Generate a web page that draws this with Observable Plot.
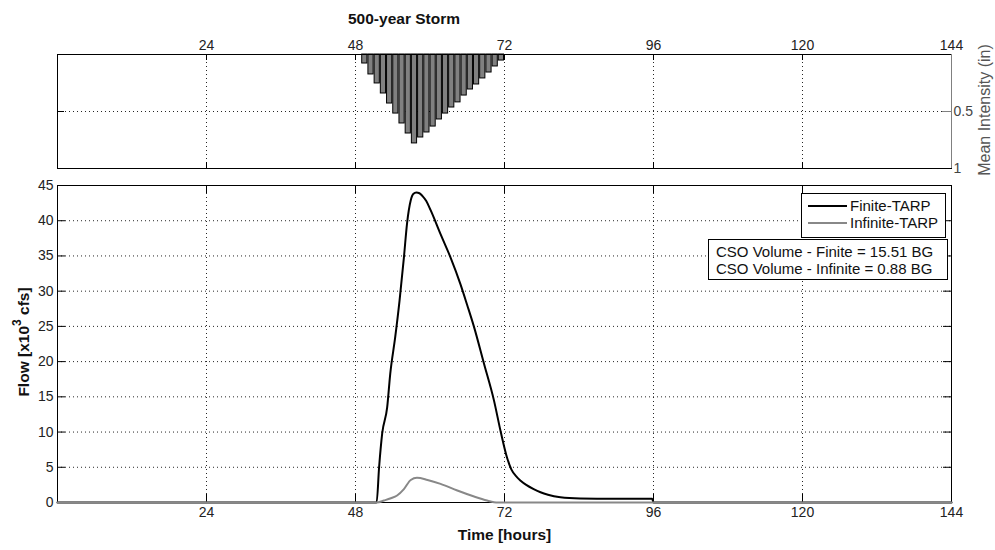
<!DOCTYPE html>
<html>
<head>
<meta charset="utf-8">
<script src="https://cdn.jsdelivr.net/npm/d3@7"></script>
<script src="https://cdn.jsdelivr.net/npm/@observablehq/plot@0.6"></script>
<style>
  body { margin: 0; background: #fff; font-family: "Liberation Sans", Arial, sans-serif; }
  #wrap { position: relative; width: 995px; height: 550px; overflow: hidden; background: #fff; }
  #title { position: absolute; left: 404px; top: 10px; transform: translateX(-50%); font-weight: bold; font-size: 15.5px; color: #111; white-space: nowrap; }
  #topPanel { position: absolute; left: 0; top: 30px; }
  #botPanel { position: absolute; left: 0; top: 175px; }
  #ylab { position: absolute; left: 22px; top: 342px; transform: translate(-50%, -50%) rotate(-90deg); font-weight: bold; font-size: 15.5px; color: #111; white-space: nowrap; }
  #ylab sup { font-size: 12px; position: relative; top: -1px; }
  #ylab2 { position: absolute; left: 985px; top: 110px; transform: translate(-50%, -50%) rotate(-90deg); font-size: 16px; color: #555; white-space: nowrap; line-height: 1; }
  .box { position: absolute; background: #fff; border: 1px solid #000; font-size: 15px; color: #111; }
  .row { position: absolute; white-space: nowrap; }
  .swatch { position: absolute; height: 0; }
</style>
</head>
<body>
<div id="wrap">
  <div id="title">500-year Storm</div>
  <div id="topPanel"></div>
  <div id="botPanel"></div>
  <div id="ylab">Flow [x10<sup>3</sup> cfs]</div>
  <div id="ylab2">Mean Intensity (in)</div>
  <div class="box" id="legend" style="left:801px; top:193px; width:143px; height:43px;">
    <div class="swatch" style="left:6px; top:11px; width:39px; border-top:2px solid #000;"></div>
    <div class="row" style="left:48px; top:3px;">Finite-TARP</div>
    <div class="swatch" style="left:6px; top:28px; width:39px; border-top:2px solid #888;"></div>
    <div class="row" style="left:48px; top:20px;">Infinite-TARP</div>
  </div>
  <div class="box" id="cso" style="left:708px; top:239px; width:238px; height:39px;">
    <div class="row" id="cso1" style="left:7px; top:3px;"></div>
    <div class="row" id="cso2" style="left:7px; top:20px;"></div>
  </div>
</div>
<script>
// ---------- data ----------
const xTicks = [24, 48, 72, 96, 120, 144];
const yTicksFlow = [0, 5, 10, 15, 20, 25, 30, 35, 40, 45];
const yTicksRain = [0.5, 1];

// hourly rainfall bars (hour at end of interval) and mean intensity (in)
const rainHour = [50, 51, 52, 53, 54, 55, 56, 57, 58, 59, 60, 61, 62, 63, 64, 65, 66, 67, 68, 69, 70, 71, 72];
const rainIntensity = [0.079, 0.175, 0.254, 0.342, 0.43, 0.518, 0.605, 0.693, 0.78, 0.728, 0.684, 0.632, 0.57, 0.518, 0.465, 0.42, 0.36, 0.307, 0.263, 0.21, 0.158, 0.105, 0.053];

// Finite-TARP flow (x10^3 cfs)
const finiteT = [0, 51.4, 51.8, 52.3, 53.1, 53.6, 54.4, 55.1, 55.8, 56.3, 56.9, 57.3, 57.8, 58.3, 58.8, 59.4, 60.1, 61.7, 63.3, 64.9, 66.0, 67.1, 68.7, 70.3, 71.4, 72.4, 73.1, 74.0, 74.6, 75.5, 76.7, 77.8, 79.0, 81.0, 84.2, 89.6, 95.8, 96.0, 144];
const finiteQ = [0, 0, 5.0, 9.8, 13.5, 18.3, 23.5, 28.7, 34.8, 39.6, 42.9, 43.8, 44.0, 43.9, 43.5, 42.8, 41.5, 38.1, 34.8, 31.0, 28.0, 24.9, 19.7, 14.5, 10.0, 6.4, 4.7, 3.6, 3.1, 2.5, 1.9, 1.45, 1.1, 0.75, 0.57, 0.52, 0.52, 0, 0];

// Infinite-TARP flow (x10^3 cfs)
const infiniteT = [0, 51.5, 52.6, 53.7, 54.7, 55.8, 56.9, 57.9, 59.6, 61.7, 64.4, 67.1, 69.2, 70.3, 71.0, 144];
const infiniteQ = [0, 0, 0.28, 0.6, 1.0, 1.9, 3.2, 3.5, 3.2, 2.65, 1.7, 0.85, 0.28, 0.05, 0, 0];

const seriesNames = ["Finite-TARP", "Infinite-TARP"];
const csoLabels = ["CSO Volume - Finite = 15.51 BG", "CSO Volume - Infinite = 0.88 BG"];

// ---------- tables ----------
const rain = rainHour.map((h, i) => ({h, v: rainIntensity[i]}));
const finite = finiteT.map((t, i) => ({t, q: finiteQ[i]}));
const infinite = infiniteT.map((t, i) => ({t, q: infiniteQ[i]}));
document.getElementById("cso1").textContent = csoLabels[0];
document.getElementById("cso2").textContent = csoLabels[1];

const font = {fontFamily: "'Liberation Sans', Arial, sans-serif", fontSize: "14px", color: "#111", background: "#fff"};
const dotted = {stroke: "#000", strokeOpacity: 0.85, strokeDasharray: "1,3"};
const innerX = xTicks.filter(d => d < 144);

// ---------- top panel (rainfall) ----------
const topH = 145, topMT = 24, topMB = 7;
const topInner = topH - topMT - topMB;
const topPlot = Plot.plot({
  width: 995, height: topH,
  marginLeft: 57, marginRight: 44, marginTop: topMT, marginBottom: topMB,
  style: font,
  x: {domain: [0, 144]},
  y: {domain: [0, 1], reverse: true},
  marks: [
    Plot.gridX(innerX, dotted),
    Plot.gridY([0.5], dotted),
    Plot.rect(rain, {x1: d => d.h - 1, x2: d => d.h, y1: 0, y2: "v", fill: "#808080", stroke: "#000", strokeWidth: 1, insetLeft: 0.5, insetRight: 0.5}),
    Plot.tickX(innerX, {x: d => d, stroke: "#000", insetBottom: topInner - 6}),
    Plot.tickX(innerX, {x: d => d, stroke: "#000", insetTop: topInner - 6}),
    Plot.tickY([0.5], {y: d => d, stroke: "#000", insetRight: 894 - 7}),
    Plot.tickY([0.5], {y: d => d, stroke: "#808080", insetLeft: 894 - 9}),
    Plot.frame({stroke: "#000"}),
    Plot.ruleX([144], {stroke: "#808080"}),
    Plot.axisX(xTicks, {anchor: "top", tickSize: 0, tickPadding: 5, label: null, fontSize: 14, fill: "#222"}),
    Plot.axisY(yTicksRain, {anchor: "right", tickSize: 0, tickPadding: 2, label: null, fontSize: 14, fill: "#444", tickFormat: d => String(d)})
  ]
});
document.getElementById("topPanel").appendChild(topPlot);

// ---------- bottom panel (flow) ----------
const botH = 375, botMT = 10, botMB = 48;
const botInner = botH - botMT - botMB;
const botPlot = Plot.plot({
  width: 995, height: botH,
  marginLeft: 57, marginRight: 44, marginTop: botMT, marginBottom: botMB,
  style: font,
  x: {domain: [0, 144]},
  y: {domain: [0, 45]},
  marks: [
    Plot.gridX(innerX, dotted),
    Plot.gridY(yTicksFlow.filter(d => d > 0 && d < 45), dotted),
    Plot.tickX(innerX, {x: d => d, stroke: "#000", insetTop: botInner - 8}),
    Plot.tickX(innerX, {x: d => d, stroke: "#000", insetBottom: botInner - 8}),
    Plot.tickY(yTicksFlow, {y: d => d, stroke: "#000", insetRight: 894 - 8}),
    Plot.tickY(yTicksFlow, {y: d => d, stroke: "#000", insetLeft: 894 - 8}),
    Plot.frame({stroke: "#000"}),
    Plot.line(finite, {x: "t", y: "q", stroke: "#000", strokeWidth: 2, curve: "monotone-x"}),
    Plot.line(infinite, {x: "t", y: "q", stroke: "#888", strokeWidth: 2, curve: "monotone-x"}),
    Plot.axisX(xTicks, {anchor: "bottom", tickSize: 0, tickPadding: 5, label: null, fontSize: 14, fill: "#222"}),
    Plot.axisY(yTicksFlow, {anchor: "left", tickSize: 0, tickPadding: 4, label: null, fontSize: 14, fill: "#222"}),
    Plot.text(["Time [hours]"], {frameAnchor: "bottom", dy: 33, fontSize: 15.5, fontWeight: "bold", fill: "#111", lineAnchor: "middle"})
  ]
});
document.getElementById("botPanel").appendChild(botPlot);
</script>
</body>
</html>
